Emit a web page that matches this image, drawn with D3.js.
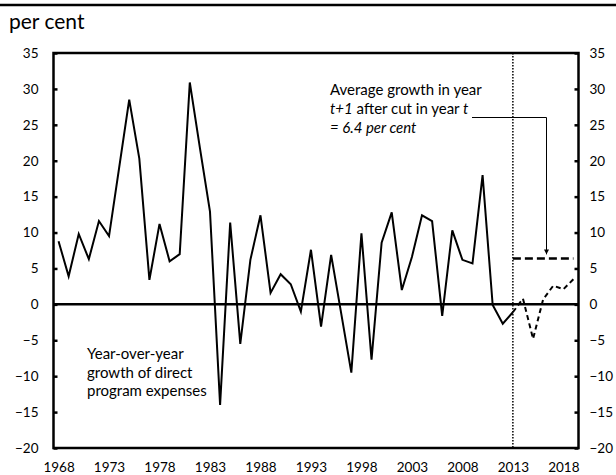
<!DOCTYPE html>
<meta charset="utf-8">
<style>
  body { margin: 0; background: #fff; }
  text { font-family: Lato, "Open Sans", sans-serif; fill: #000; }
</style>
<body>
<div id="chart"></div>
<script src="https://d3js.org/d3.v7.min.js"></script>
<script>

// actual year-over-year growth, 1968-2013 (per cent)
var actualYears = d3.range(1968, 2014);
var actualValues = [8.8, 3.9, 9.8, 6.3, 11.6, 9.5, 19.0, 28.5, 20.3, 3.4,
                    11.2, 6.0, 7.0, 30.9, 21.8, 12.9, -14.0, 11.4, -5.5, 6.2,
                    12.4, 1.6, 4.2, 2.8, -1.0, 7.6, -3.1, 6.9, -1.3, -9.5,
                    9.9, -7.7, 8.6, 12.8, 2.0, 6.6, 12.4, 11.6, -1.6, 10.3,
                    6.2, 5.7, 18.0, -0.1, -2.7, -1.1];

// projection, 2013-2019
var projYears = [2013, 2014, 2015, 2016, 2017, 2018, 2019];
var projValues = [-1.1, 0.8, -4.8, 0.7, 2.6, 2.1, 3.5];

// average growth after a cut
var avgYears = [2013, 2019];
var avgValue = 6.4;

var allYears = d3.range(1968, 2020);
var xTickYears = [1968, 1973, 1978, 1983, 1988, 1993, 1998, 2003, 2008, 2013, 2018];
var yTicks = [-20, -15, -10, -5, 0, 5, 10, 15, 20, 25, 30, 35];

var W = 616, H = 475;
var m = {left: 53.5, right: 578.5, top: 53, bottom: 448};

var svg = d3.select("#chart").append("svg")
    .attr("width", W)
    .attr("height", H);

var x = d3.scalePoint().domain(allYears).range([m.left, m.right]).padding(0.5);
var y = d3.scaleLinear().domain([-20, 35]).range([m.bottom, m.top]);

// rule across the top
svg.append("line")
    .attr("x1", 0).attr("x2", W)
    .attr("y1", 5).attr("y2", 5)
    .style("stroke", "#000").style("stroke-width", 2.5);

svg.append("text")
    .attr("x", 9).attr("y", 29)
    .style("font-size", "21px")
    .text("per cent");

// left axis, ticks inward
var yl = svg.append("g")
    .attr("transform", "translate(" + m.left + ",0)")
    .call(d3.axisLeft(y).tickValues(yTicks).tickSizeInner(-4).tickSizeOuter(0).tickPadding(15));

// right axis, ticks inward
var yr = svg.append("g")
    .attr("transform", "translate(" + m.right + ",0)")
    .call(d3.axisRight(y).tickValues(yTicks).tickSizeInner(-4).tickSizeOuter(0).tickPadding(11));

[yl, yr].forEach(function(g) {
  g.select(".domain").remove();
  g.selectAll(".tick line").style("stroke", "#000").style("stroke-width", 2.5);
  g.selectAll("text").style("font-family", "Lato").style("font-size", "13.5px");
});

// bottom labels
var xa = svg.append("g")
    .attr("transform", "translate(0," + m.bottom + ")")
    .call(d3.axisBottom(x).tickValues(xTickYears).tickSize(0).tickPadding(14));
xa.select(".domain").remove();
xa.selectAll("text").style("font-family", "Lato").style("font-size", "13.5px");

// zero line
svg.append("line")
    .attr("x1", m.left).attr("x2", m.right)
    .attr("y1", y(0)).attr("y2", y(0))
    .style("stroke", "#000").style("stroke-width", 2.5);

// dotted line at 2013
svg.append("line")
    .attr("x1", x(2013)).attr("x2", x(2013))
    .attr("y1", m.top).attr("y2", m.bottom)
    .style("stroke", "#000").style("stroke-width", 1.5)
    .style("stroke-dasharray", "1.5,1.5");

var line = d3.line()
    .x(function(d) { return x(d[0]); })
    .y(function(d) { return y(d[1]); });

svg.append("path")
    .datum(d3.zip(actualYears, actualValues))
    .attr("d", line)
    .style("fill", "none").style("stroke", "#000").style("stroke-width", 2)
    .style("stroke-linejoin", "miter");

svg.append("path")
    .datum(d3.zip(projYears, projValues))
    .attr("d", line)
    .style("fill", "none").style("stroke", "#000").style("stroke-width", 2)
    .style("stroke-dasharray", "5,3.5");

svg.append("path")
    .datum(avgYears.map(function(yr) { return [yr, avgValue]; }))
    .attr("d", line)
    .style("fill", "none").style("stroke", "#000").style("stroke-width", 2.5)
    .style("stroke-dasharray", "8,4");

// frame
svg.append("rect")
    .attr("x", m.left).attr("y", m.top)
    .attr("width", m.right - m.left).attr("height", m.bottom - m.top)
    .style("fill", "none").style("stroke", "#000").style("stroke-width", 2.5);

// annotation with arrow
svg.append("defs").append("marker")
    .attr("id", "arrow")
    .attr("viewBox", "0 0 10 10")
    .attr("refX", 10).attr("refY", 5)
    .attr("markerWidth", 5).attr("markerHeight", 5)
    .attr("orient", "auto")
  .append("path")
    .attr("d", "M0,0L10,5L0,10z")
    .style("fill", "#000");

var ann = svg.append("text")
    .style("font-size", "15px");
ann.append("tspan").attr("x", 330).attr("y", 95).text("Average growth in year");
var l2 = ann.append("tspan").attr("x", 330).attr("y", 114);
l2.append("tspan").style("font-style", "italic").text("t+1");
l2.append("tspan").text(" after cut in year ");
l2.append("tspan").style("font-style", "italic").text("t");
ann.append("tspan").attr("x", 330).attr("y", 133)
    .style("font-style", "italic").text("= 6.4 per cent");

var arrowX = 546.5;
svg.append("path")
    .attr("d", "M" + 472 + "," + 117.5 + "H" + arrowX + "V" + (y(avgValue) - 4))
    .style("fill", "none").style("stroke", "#000").style("stroke-width", 1)
    .attr("marker-end", "url(#arrow)");

var lab = svg.append("text")
    .style("font-size", "15px");
["Year-over-year", "growth of direct", "program expenses"].forEach(function(s, i) {
  lab.append("tspan").attr("x", 87).attr("y", 359 + i * 18.7).text(s);
});

</script>
</body>
